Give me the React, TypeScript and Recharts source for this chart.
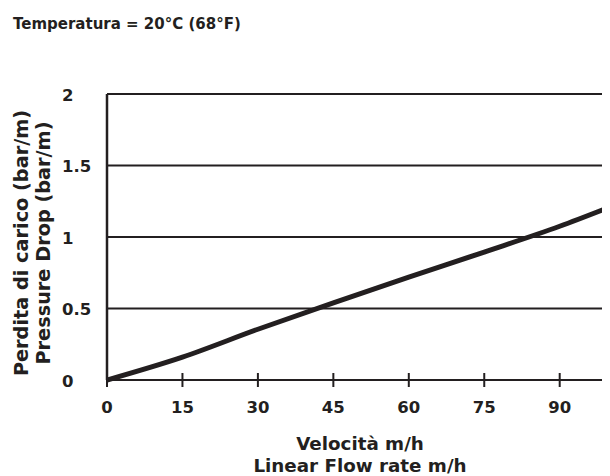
import React from "react";
import { LineChart, Line, XAxis, YAxis, CartesianGrid } from "recharts";

const velocity = [0, 15, 30, 45, 60, 75, 90, 100];
const pressureDrop = [0, 0.16, 0.355, 0.54, 0.72, 0.895, 1.075, 1.21];
const xTicks = [0, 15, 30, 45, 60, 75, 90];
const yTicks = [0, 0.5, 1, 1.5, 2];

const titleText = "Temperatura = 20°C (68°F)";
const yLabelLines = ["Perdita di carico (bar/m)", "Pressure Drop (bar/m)"];
const xLabelLines = ["Velocità m/h", "Linear Flow rate m/h"];

const INK = "#231f20";
const FONT = "'DejaVu Sans', sans-serif";

const data = velocity.map((v, i) => ({ v, p: pressureDrop[i] }));

const XTick = (props: any) => {
  const { x, y, payload } = props;
  return (
    <g>
      <line x1={x} x2={x} y1={y - 7} y2={y + 7} stroke={INK} strokeWidth={2} />
      <text x={x} y={y + 33} textAnchor="middle" fill={INK} fontSize={16.5} fontWeight={700} fontFamily={FONT}>
        {payload.value}
      </text>
    </g>
  );
};

const YTick = (props: any) => {
  const { y, payload } = props;
  return (
    <text x={54} y={y + 6.5} textAnchor="start" fill={INK} fontSize={16.5} fontWeight={700} fontFamily={FONT}>
      {String(payload.value)}
    </text>
  );
};

export default function App() {
  return (
    <div style={{ position: "relative", width: 602, height: 468, background: "#fff" }}>
      <LineChart width={602} height={468} data={data} margin={{ top: 86, right: 0, left: 0, bottom: 56 }}>
        <CartesianGrid horizontal vertical={false} stroke={INK} strokeWidth={2} />
        <XAxis
          type="number"
          dataKey="v"
          domain={[0, 100]}
          ticks={xTicks}
          height={40}
          tickSize={0}
          tickMargin={0}
          tickLine={false}
          axisLine={{ stroke: INK, strokeWidth: 2 }}
          tick={<XTick />}
          allowDataOverflow
        />
        <YAxis
          type="number"
          domain={[0, 2]}
          ticks={yTicks}
          width={99}
          tickSize={0}
          tickLine={false}
          axisLine={{ stroke: INK, strokeWidth: 2.5 }}
          tick={<YTick />}
        />
        <Line
          type="monotone"
          dataKey="p"
          stroke={INK}
          strokeWidth={5}
          dot={false}
          isAnimationActive={false}
        />
      </LineChart>
      <svg width={602} height={468} style={{ position: "absolute", left: 0, top: 0, pointerEvents: "none" }}>
        <text x={5} y={21} fill={INK} fontSize={15} fontWeight={700} fontFamily={FONT}>
          {titleText}
        </text>
        {yLabelLines.map((t, i) => (
          <text
            key={t}
            transform={`translate(${20 + i * 22}, 235) rotate(-90)`}
            textAnchor="middle"
            fill={INK}
            fontSize={19.3}
            fontWeight={700}
            fontFamily={FONT}
          >
            {t}
          </text>
        ))}
        {xLabelLines.map((t, i) => (
          <text
            key={t}
            x={352}
            y={442 + i * 22}
            textAnchor="middle"
            fill={INK}
            fontSize={18.3}
            fontWeight={700}
            fontFamily={FONT}
          >
            {t}
          </text>
        ))}
      </svg>
    </div>
  );
}
